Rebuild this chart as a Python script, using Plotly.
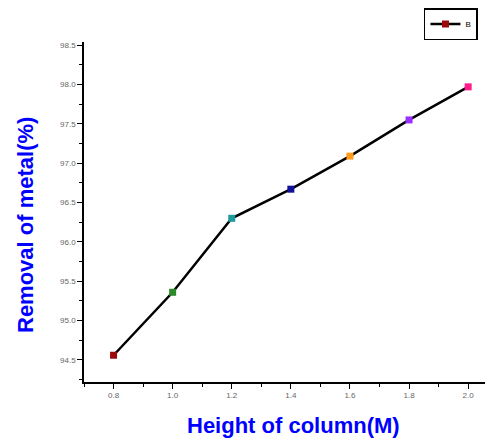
import plotly.graph_objects as go

heights = [0.8, 1.0, 1.2, 1.4, 1.6, 1.8, 2.0]
removal = [94.56, 95.36, 96.30, 96.67, 97.09, 97.55, 97.97]
point_colors = ["#9b0a0a", "#2a8a2a", "#1f9a9a", "#10109a", "#ff9a1a", "#9a30ff", "#ff1a8a"]
x_ticks = [0.8, 1.0, 1.2, 1.4, 1.6, 1.8, 2.0]
y_ticks = [94.5, 95.0, 95.5, 96.0, 96.5, 97.0, 97.5, 98.0, 98.5]

fig = go.Figure()
fig.add_trace(go.Scatter(
    x=heights, y=removal, mode="lines+markers", name="B",
    line=dict(color="black", width=2.5),
    marker=dict(symbol="square", size=7, color=point_colors),
))

axis_common = dict(
    showline=True, linecolor="black", linewidth=1.5,
    ticks="outside", ticklen=5, tickwidth=1.2, tickcolor="black",
    showgrid=False, zeroline=False, mirror=False,
    tickfont=dict(family="Arial, Liberation Sans", size=8, color="#666666"),
    minor=dict(ticks="outside", ticklen=3, tickwidth=1, tickcolor="black"),
)

fig.update_layout(
    width=491, height=440,
    margin=dict(l=84, r=6, t=42, b=58),
    paper_bgcolor="white", plot_bgcolor="white",
    xaxis=dict(range=[0.70, 2.057], tickvals=x_ticks, ticktext=[f"{v:.1f}" for v in x_ticks],
               **axis_common),
    yaxis=dict(range=[94.22, 98.54], tickvals=y_ticks, ticktext=[f"{v:.1f}" for v in y_ticks],
               **axis_common),
    showlegend=True,
    legend=dict(x=0.9825, y=1.1, xanchor="right", yanchor="top",
                bordercolor="black", borderwidth=1.5, bgcolor="white",
                font=dict(family="Arial, Liberation Sans", size=8, color="black"),
                itemwidth=30, tracegroupgap=0),
    annotations=[
        dict(text="<b>Height of column(M)</b>", xref="paper", yref="paper",
             x=(293 - 84) / 401, y=(382 - 425) / 340, xanchor="center", yanchor="middle",
             showarrow=False,
             font=dict(family="Arial, Liberation Sans", size=22, color="#0000ff")),
        dict(text="<b>Removal of metal(%)</b>", xref="paper", yref="paper",
             x=(25 - 84) / 401, y=(382 - 225) / 340, xanchor="center", yanchor="middle",
             showarrow=False, textangle=-90,
             font=dict(family="Arial, Liberation Sans", size=22, color="#0000ff")),
    ],
)
fig.update_xaxes(minor_dtick=0.1)
fig.update_yaxes(minor_dtick=0.25)

fig.write_html("out.html")
